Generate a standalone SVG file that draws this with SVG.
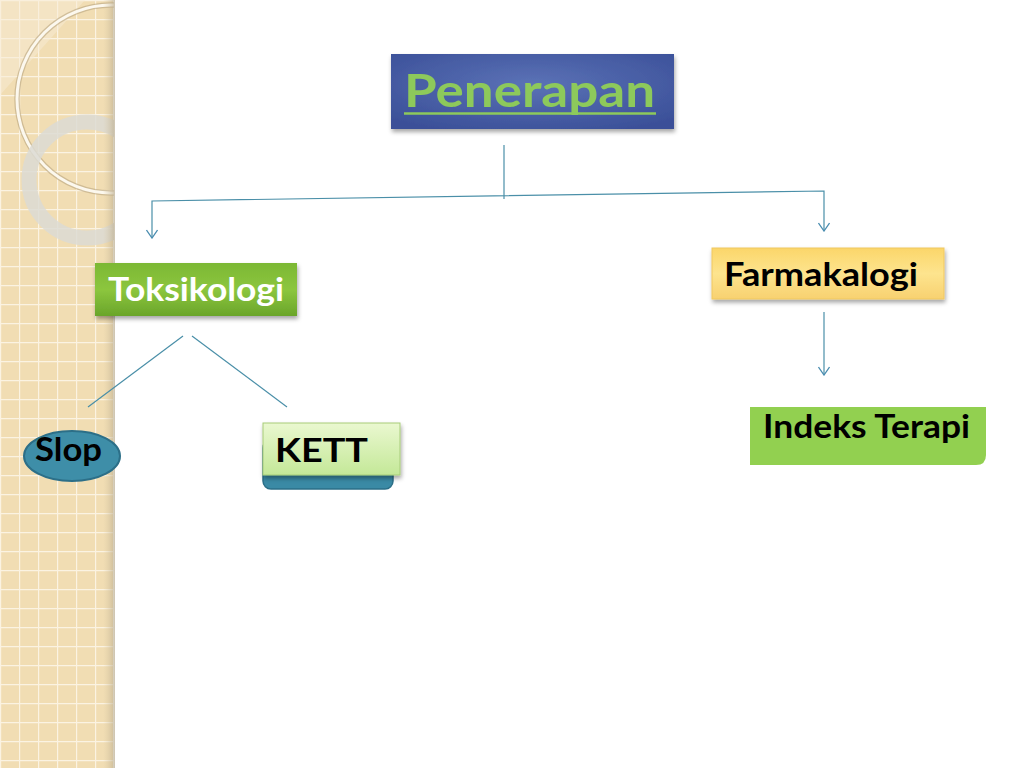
<svg xmlns="http://www.w3.org/2000/svg" width="1024" height="768" viewBox="0 0 1024 768">
<defs>
<pattern id="grid" x="0" y="0" width="19" height="19" patternUnits="userSpaceOnUse">
<rect width="19" height="19" fill="#f1ddb3"/>
<path d="M0 0.5H19M0.5 0V19" stroke="#fbf3e2" stroke-width="1.4"/>
</pattern>
<linearGradient id="edge" x1="0" x2="1" y1="0" y2="0">
<stop offset="0" stop-color="#d9c9a6" stop-opacity="0"/>
<stop offset="1" stop-color="#b8aa8c" stop-opacity="0.7"/>
</linearGradient>
<radialGradient id="blue" cx="0.5" cy="0.4" r="0.7">
<stop offset="0" stop-color="#5b72b6"/>
<stop offset="1" stop-color="#3a4f98"/>
</radialGradient>
<linearGradient id="green" x1="0" x2="0" y1="0" y2="1">
<stop offset="0" stop-color="#7cb834"/>
<stop offset="0.5" stop-color="#8cc63e"/>
<stop offset="1" stop-color="#6aa52a"/>
</linearGradient>
<linearGradient id="yellow" x1="0" x2="0" y1="0" y2="1">
<stop offset="0" stop-color="#fbd66a"/>
<stop offset="0.5" stop-color="#fde48e"/>
<stop offset="1" stop-color="#f8d170"/>
</linearGradient>
<linearGradient id="lgreen" x1="0" x2="0" y1="0" y2="1">
<stop offset="0" stop-color="#eaf8d0"/>
<stop offset="1" stop-color="#c4e898"/>
</linearGradient>
<clipPath id="strip"><rect x="0" y="0" width="114" height="768"/></clipPath>
<filter id="sh" x="-10%" y="-20%" width="120%" height="150%">
<feDropShadow dx="1" dy="3" stdDeviation="2" flood-color="#000" flood-opacity="0.35"/>
</filter>
<marker id="arr" viewBox="0 0 10 12" refX="9" refY="6" markerWidth="10" markerHeight="12" markerUnits="userSpaceOnUse" orient="auto-start-reverse">
<path d="M1 0.5 L9 6 L1 11.5" fill="none" stroke="#4a8db0" stroke-width="1.3"/>
</marker>
</defs>
<style>
.lbl{font-family:Lato,"Liberation Sans",sans-serif;font-weight:bold;font-size:32px}
.ln{stroke:#4a8fa8;stroke-width:1.2;fill:none}
</style>
<rect width="1024" height="768" fill="#ffffff"/>
<g id="background">
<rect x="0" y="0" width="113" height="768" fill="url(#grid)"/>
<g clip-path="url(#strip)">
<path d="M0 0H85L0 95Z" fill="#f7ecd6" opacity="0.5"/>
<circle cx="111" cy="99" r="94" fill="none" stroke="#b9a57e" stroke-width="5.5" opacity="0.6"/>
<circle cx="111" cy="99" r="94" fill="none" stroke="#fcf8ee" stroke-width="3"/>
<circle cx="87" cy="180" r="58" fill="none" stroke="#dcdbd4" stroke-width="15" opacity="0.85"/>
</g>
<rect x="103" y="0" width="12" height="768" fill="url(#edge)"/>
</g>
<g id="connectors">
<line class="ln" x1="504" y1="145" x2="504" y2="199"/>
<polyline class="ln" points="152,238 152,201 824,191 824,231" marker-start="url(#arr)" marker-end="url(#arr)"/>
<line class="ln" x1="824" y1="312" x2="824" y2="375" marker-end="url(#arr)"/>
<line class="ln" x1="183" y1="336" x2="88" y2="407"/>
<line class="ln" x1="192" y1="336" x2="287" y2="407"/>
</g>
<g id="node-penerapan">
<rect x="391" y="54" width="283" height="75" fill="url(#blue)" filter="url(#sh)"/>
<text x="404" y="107" font-family="Lato,'Liberation Sans',sans-serif" font-weight="bold" font-size="45" fill="#8dc95b" textLength="251" lengthAdjust="spacingAndGlyphs">Penerapan</text>
<line x1="404" y1="113.5" x2="656" y2="113.5" stroke="#8dc95b" stroke-width="2.5"/>
</g>
<g id="node-toksikologi">
<rect x="95" y="263" width="202" height="53" fill="url(#green)" filter="url(#sh)"/>
<text class="lbl" x="108" y="301" fill="#ffffff" textLength="176" lengthAdjust="spacingAndGlyphs">Toksikologi</text>
</g>
<g id="node-farmakalogi">
<rect x="712" y="248" width="232" height="51" fill="url(#yellow)" stroke="#f0c860" stroke-width="1" filter="url(#sh)"/>
<text class="lbl" x="724" y="286" fill="#000000" textLength="194" lengthAdjust="spacingAndGlyphs">Farmakalogi</text>
</g>
<g id="node-indeks">
<path d="M750 407H986V455Q986 465 976 465H750Z" fill="#92d050"/>
<text class="lbl" x="763" y="438" fill="#000000" textLength="207" lengthAdjust="spacingAndGlyphs">Indeks Terapi</text>
</g>
<g id="node-slop">
<ellipse cx="72" cy="456" rx="48" ry="25" fill="#3e8ea8" stroke="#2c6f88" stroke-width="2"/>
<text class="lbl" x="35" y="461" fill="#000000" textLength="67" lengthAdjust="spacingAndGlyphs">Slop</text>
</g>
<g id="node-kett">
<rect x="263" y="440" width="130" height="49" rx="8" fill="#3a8aa5" stroke="#2b6f88" stroke-width="1.5"/>
<rect x="263" y="423" width="137" height="52" fill="url(#lgreen)" stroke="#a7cc78" stroke-width="1" filter="url(#sh)"/>
<text class="lbl" x="275" y="462" font-size="33" fill="#000000" textLength="93" lengthAdjust="spacingAndGlyphs">KETT</text>
</g>
</svg>
